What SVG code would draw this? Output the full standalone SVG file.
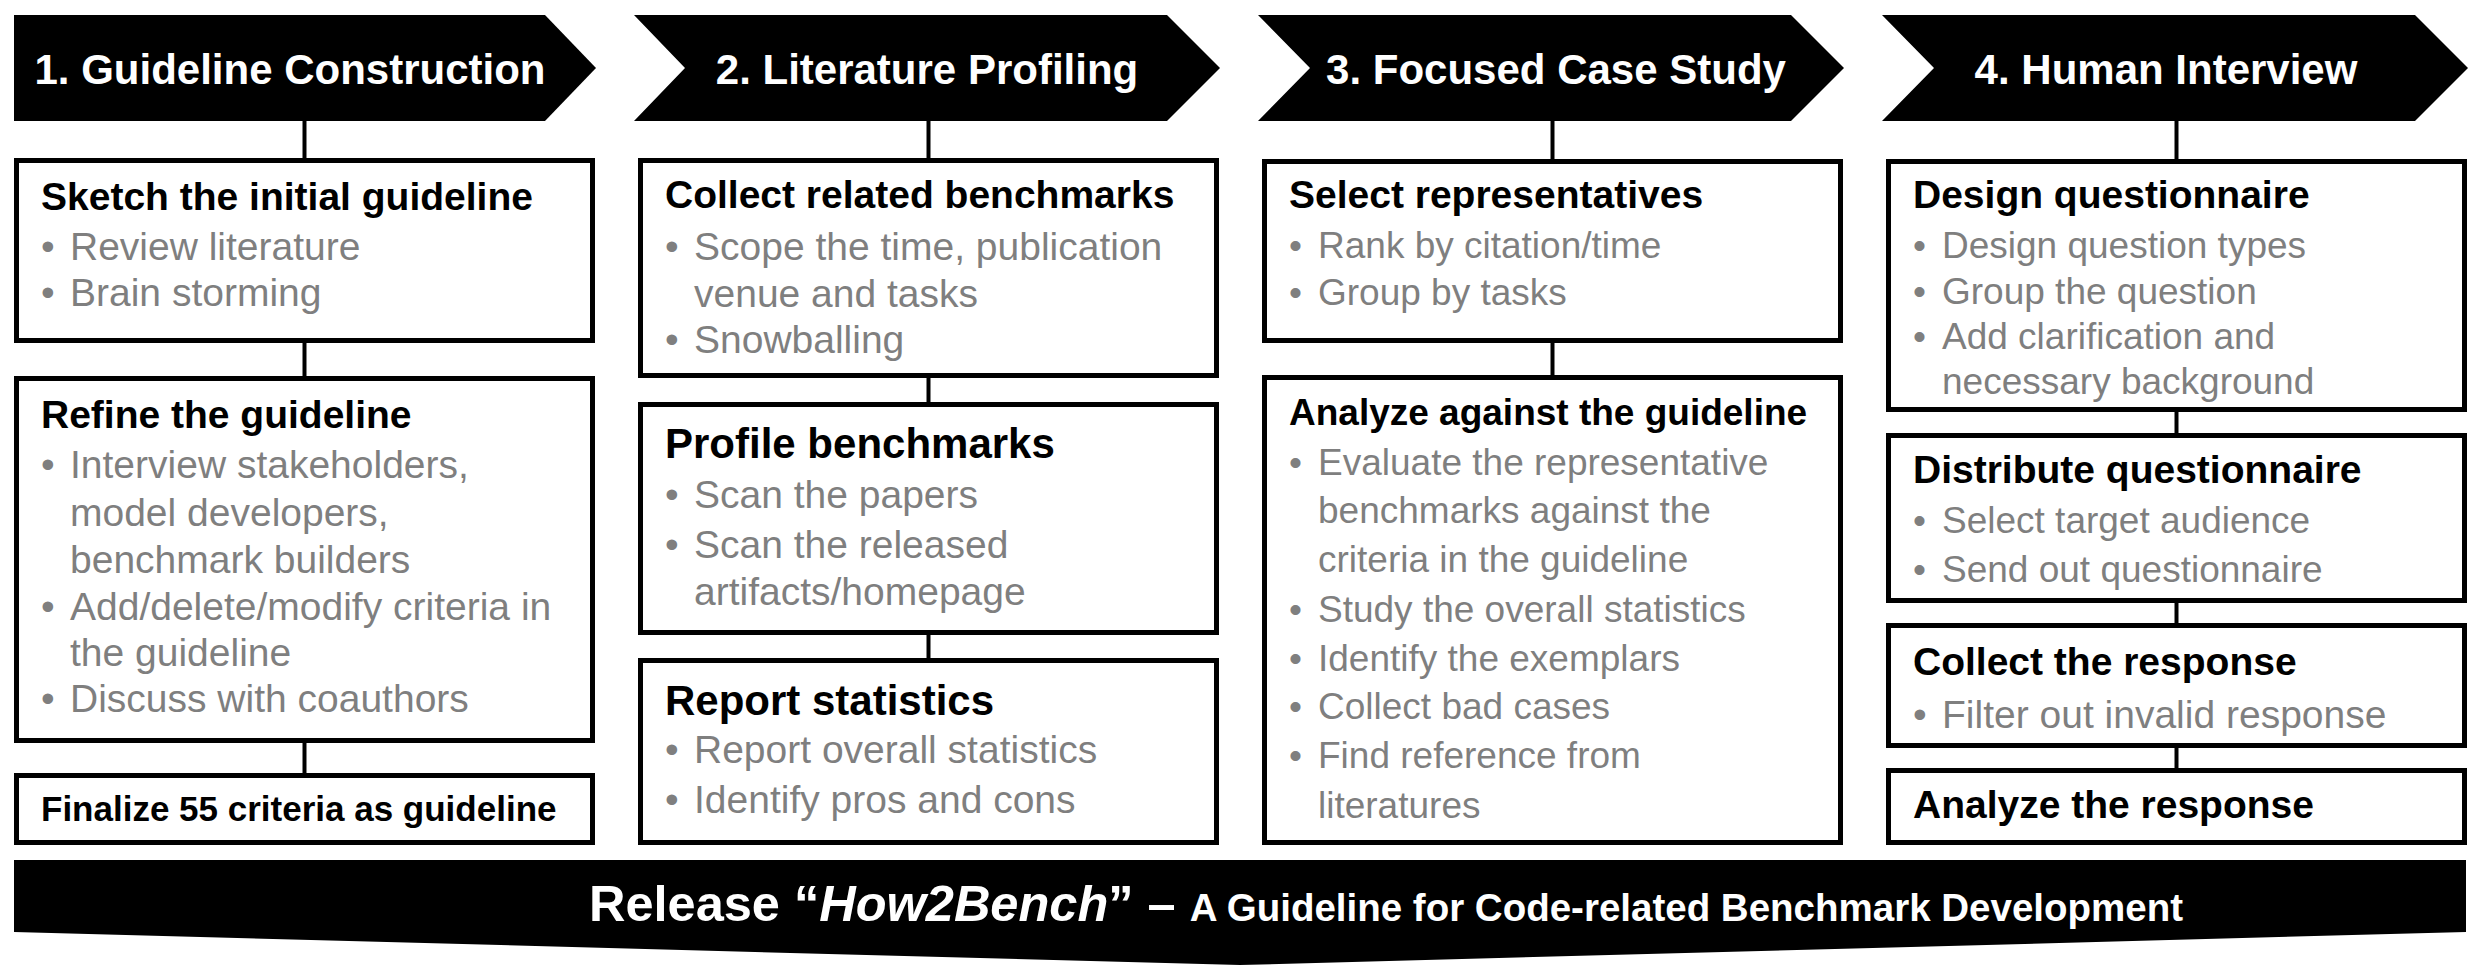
<svg xmlns="http://www.w3.org/2000/svg" width="2489" height="971" viewBox="0 0 2489 971">
<style>
text{font-family:"Liberation Sans",Arial,sans-serif}
.hdr{fill:#000}
.hdrt{fill:#fff;font-weight:bold;font-size:42px;text-anchor:middle}
.box{fill:#fff;stroke:#000;stroke-width:5}
.t{fill:#000;font-weight:bold;font-size:39px}
.t42{font-size:42px}
.t37{font-size:37px}
.t35{font-size:35px}
.b{fill:#7f7f7f;font-size:39px}
.b.s{font-size:37px}
.conn line{stroke:#000;stroke-width:4}
.ban{fill:#fff;font-weight:bold}
</style>
<rect width="2489" height="971" fill="#fff"/>
<g class="conn">
<line x1="304.5" y1="120" x2="304.5" y2="160"/>
<line x1="304.5" y1="341" x2="304.5" y2="378"/>
<line x1="304.5" y1="741" x2="304.5" y2="775"/>
<line x1="928.5" y1="120" x2="928.5" y2="160"/>
<line x1="928.5" y1="376" x2="928.5" y2="404"/>
<line x1="928.5" y1="633" x2="928.5" y2="660"/>
<line x1="1552.5" y1="120" x2="1552.5" y2="161"/>
<line x1="1552.5" y1="341" x2="1552.5" y2="377"/>
<line x1="2176.5" y1="120" x2="2176.5" y2="161"/>
<line x1="2176.5" y1="410" x2="2176.5" y2="435"/>
<line x1="2176.5" y1="601" x2="2176.5" y2="625"/>
<line x1="2176.5" y1="746" x2="2176.5" y2="770"/>
</g>
<g id="header1"><polygon class="hdr" points="14,15 545,15 596,68 545,121 14,121"/><text class="hdrt" x="290" y="84">1. Guideline Construction</text></g>
<g id="header2"><polygon class="hdr" points="634,15 1167,15 1220,68 1167,121 634,121 685,68"/><text class="hdrt" x="927" y="84">2. Literature Profiling</text></g>
<g id="header3"><polygon class="hdr" points="1258,15 1791,15 1844,68 1791,121 1258,121 1310,68"/><text class="hdrt" x="1556" y="84">3. Focused Case Study</text></g>
<g id="header4"><polygon class="hdr" points="1882,15 2415,15 2468,68 2415,121 1882,121 1934,68"/><text class="hdrt" x="2166" y="84">4. Human Interview</text></g>

<g id="c1b1"><rect class="box" x="16.5" y="160.5" width="576" height="180"/>
<text class="t" x="41" y="210">Sketch the initial guideline</text>
<text class="b"><tspan x="41" y="260">•</tspan><tspan x="70">Review literature</tspan><tspan x="41" y="306">•</tspan><tspan x="70">Brain storming</tspan></text></g>
<g id="c1b2"><rect class="box" x="16.5" y="378.5" width="576" height="362"/>
<text class="t" x="41" y="428">Refine the guideline</text>
<text class="b"><tspan x="41" y="478">•</tspan><tspan x="70">Interview stakeholders,</tspan><tspan x="70" y="526">model developers,</tspan><tspan x="70" y="573">benchmark builders</tspan><tspan x="41" y="620">•</tspan><tspan x="70">Add/delete/modify criteria in</tspan><tspan x="70" y="666">the guideline</tspan><tspan x="41" y="712">•</tspan><tspan x="70">Discuss with coauthors</tspan></text></g>
<g id="c1b3"><rect class="box" x="16.5" y="775.5" width="576" height="67"/>
<text class="t t35" x="41" y="821">Finalize 55 criteria as guideline</text></g>

<g id="c2b1"><rect class="box" x="640.5" y="160.5" width="576" height="215"/>
<text class="t" x="665" y="208">Collect related benchmarks</text>
<text class="b"><tspan x="665" y="260">•</tspan><tspan x="694">Scope the time, publication</tspan><tspan x="694" y="307">venue and tasks</tspan><tspan x="665" y="353">•</tspan><tspan x="694">Snowballing</tspan></text></g>
<g id="c2b2"><rect class="box" x="640.5" y="404.5" width="576" height="228"/>
<text class="t t42" x="665" y="458">Profile benchmarks</text>
<text class="b"><tspan x="665" y="508">•</tspan><tspan x="694">Scan the papers</tspan><tspan x="665" y="558">•</tspan><tspan x="694">Scan the released</tspan><tspan x="694" y="605">artifacts/homepage</tspan></text></g>
<g id="c2b3"><rect class="box" x="640.5" y="660.5" width="576" height="182"/>
<text class="t t42" x="665" y="715">Report statistics</text>
<text class="b"><tspan x="665" y="763">•</tspan><tspan x="694">Report overall statistics</tspan><tspan x="665" y="813">•</tspan><tspan x="694">Identify pros and cons</tspan></text></g>

<g id="c3b1"><rect class="box" x="1264.5" y="161.5" width="576" height="179"/>
<text class="t" x="1289" y="208">Select representatives</text>
<text class="b s"><tspan x="1289" y="258">•</tspan><tspan x="1318">Rank by citation/time</tspan><tspan x="1289" y="305">•</tspan><tspan x="1318">Group by tasks</tspan></text></g>
<g id="c3b2"><rect class="box" x="1264.5" y="377.5" width="576" height="465"/>
<text class="t t37" x="1289" y="425">Analyze against the guideline</text>
<text class="b s"><tspan x="1289" y="475">•</tspan><tspan x="1318">Evaluate the representative</tspan><tspan x="1318" y="523">benchmarks against the</tspan><tspan x="1318" y="572">criteria in the guideline</tspan><tspan x="1289" y="622">•</tspan><tspan x="1318">Study the overall statistics</tspan><tspan x="1289" y="671">•</tspan><tspan x="1318">Identify the exemplars</tspan><tspan x="1289" y="719">•</tspan><tspan x="1318">Collect bad cases</tspan><tspan x="1289" y="768">•</tspan><tspan x="1318">Find reference from</tspan><tspan x="1318" y="818">literatures</tspan></text></g>

<g id="c4b1"><rect class="box" x="1888.5" y="161.5" width="576" height="248"/>
<text class="t" x="1913" y="208">Design questionnaire</text>
<text class="b s"><tspan x="1913" y="258">•</tspan><tspan x="1942">Design question types</tspan><tspan x="1913" y="304">•</tspan><tspan x="1942">Group the question</tspan><tspan x="1913" y="349">•</tspan><tspan x="1942">Add clarification and</tspan><tspan x="1942" y="394">necessary background</tspan></text></g>
<g id="c4b2"><rect class="box" x="1888.5" y="435.5" width="576" height="165"/>
<text class="t" x="1913" y="483">Distribute questionnaire</text>
<text class="b s"><tspan x="1913" y="533">•</tspan><tspan x="1942">Select target audience</tspan><tspan x="1913" y="582">•</tspan><tspan x="1942">Send out questionnaire</tspan></text></g>
<g id="c4b3"><rect class="box" x="1888.5" y="625.5" width="576" height="120"/>
<text class="t" x="1913" y="675">Collect the response</text>
<text class="b"><tspan x="1913" y="728">•</tspan><tspan x="1942">Filter out invalid response</tspan></text></g>
<g id="c4b4"><rect class="box" x="1888.5" y="770.5" width="576" height="72"/>
<text class="t" x="1913" y="818">Analyze the response</text></g>

<g id="banner"><polygon fill="#000" points="14,860 2466,860 2466,932 1240,965 14,932"/>
<text class="ban" x="589" y="921"><tspan font-size="50.5">Release “</tspan><tspan font-size="50.5" font-style="italic">How2Bench</tspan><tspan font-size="50.5">” – </tspan><tspan font-size="38.5">A Guideline for Code-related Benchmark Development</tspan></text></g>
</svg>
